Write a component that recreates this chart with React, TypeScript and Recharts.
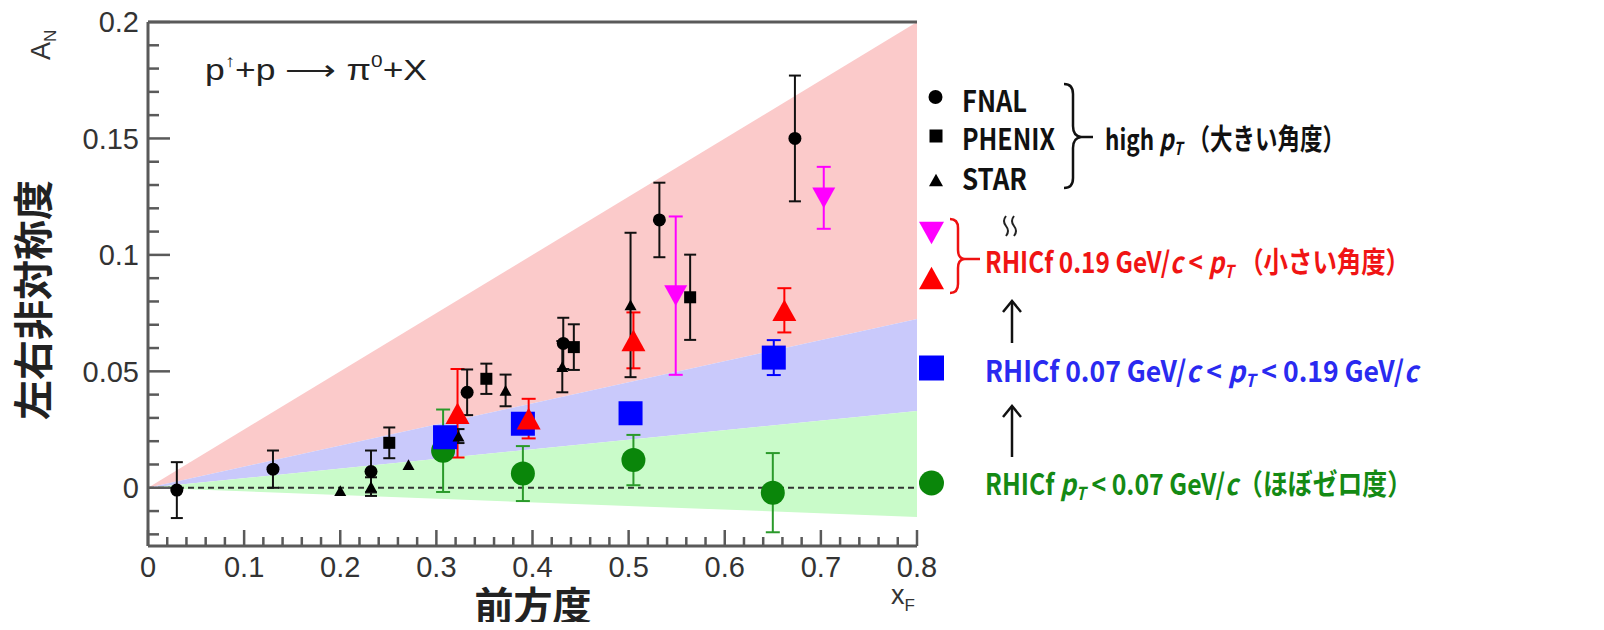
import React from 'react';
import {
  ComposedChart,
  XAxis,
  YAxis,
  Area,
  Line,
  Scatter,
  ErrorBar,
  ReferenceLine,
} from 'recharts';

// Bands of A_N vs x_F (edges meet at the origin)
const bandX = [0, 0.8];
const pinkTop = [0, 0.2];
const blueTop = [0, 0.0725];
const greenTop = [0, 0.033];
const greenBottom = [0, -0.0125];
const zeroLine = [0, 0];

// high pT world data
const fnalX = [0.03, 0.13, 0.232, 0.332, 0.432, 0.532, 0.673];
const fnalY = [-0.001, 0.008, 0.007, 0.041, 0.062, 0.115, 0.15];
const fnalErr = [0.012, 0.008, 0.009, 0.0098, 0.011, 0.016, 0.027];

const phenixX = [0.251, 0.352, 0.443, 0.564];
const phenixY = [0.0193, 0.0468, 0.0604, 0.0818];
const phenixErr = [0.0066, 0.0065, 0.0098, 0.0183];

const starX = [0.2, 0.232, 0.271, 0.323, 0.372, 0.431, 0.502];
const starY = [-0.0012, 0.0005, 0.0099, 0.0222, 0.0418, 0.052, 0.0785];
const starErr = [0, 0.004, 0, 0.003, 0.0068, 0.011, 0.031];

// RHICf
const magentaX = [0.549, 0.703];
const magentaY = [0.0825, 0.1245];
const magentaErr = [0.034, 0.0133];

const redX = [0.322, 0.396, 0.505, 0.662];
const redY = [0.032, 0.0297, 0.0633, 0.0762];
const redErr = [0.019, 0.0085, 0.012, 0.0095];

const blueX = [0.309, 0.39, 0.502, 0.651];
const blueY = [0.0217, 0.0275, 0.032, 0.0559];
const blueErr = [0.004, 0.004, 0.004, 0.0075];

const greenX = [0.307, 0.39, 0.505, 0.65];
const greenY = [0.0159, 0.0061, 0.0119, -0.0021];
const greenErr = [0.0177, 0.0118, 0.0108, 0.017];

// axis ticks
const xTicks = Array.from({ length: 41 }, (_, i) => Math.round(i * 2) / 100);
const xMajor = [0, 0.1, 0.2, 0.3, 0.4, 0.5, 0.6, 0.7, 0.8];
const yTicks = [
  -0.02, -0.01, 0, 0.01, 0.02, 0.03, 0.04, 0.05, 0.06, 0.07, 0.08, 0.09, 0.1,
  0.11, 0.12, 0.13, 0.14, 0.15, 0.16, 0.17, 0.18, 0.19, 0.2,
];
const yMajor = [0, 0.05, 0.1, 0.15, 0.2];

const bandRows = bandX.map((x, i) => ({
  x,
  pink: [blueTop[i], pinkTop[i]],
  blue: [greenTop[i], blueTop[i]],
  green: [greenBottom[i], greenTop[i]],
  zero: zeroLine[i],
}));

const rows = (xs: number[], ys: number[], es: number[]) =>
  xs.map((x, i) => ({ x, y: ys[i], err: es[i] }));

const W = 1604;
const H = 630;
const AXIS = '#5a5a5a';
const TICK_FONT = '"Liberation Sans", Arial, sans-serif';
const JP_FONT = '"Noto Sans CJK JP", sans-serif';

type Kind = 'circle' | 'square' | 'up' | 'down';

function Marker({ cx, cy, kind, size, fill }: { cx: number; cy: number; kind: Kind; size: number; fill: string }) {
  const h = size / 2;
  if (kind === 'circle') return <circle cx={cx} cy={cy} r={h} fill={fill} />;
  if (kind === 'square') return <rect x={cx - h} y={cy - h} width={size} height={size} fill={fill} />;
  const t = h * 0.9;
  if (kind === 'up')
    return <polygon points={`${cx},${cy - t} ${cx + h},${cy + t} ${cx - h},${cy + t}`} fill={fill} />;
  return <polygon points={`${cx},${cy + t} ${cx + h},${cy - t} ${cx - h},${cy - t}`} fill={fill} />;
}

const isIn = (list: number[], v: number) => list.some((m) => Math.abs(m - v) < 1e-9);

function YTick(props: any) {
  const { x, y, payload } = props;
  const major = isIn(yMajor, payload.value);
  return (
    <g>
      <line x1={x} x2={x + (major ? 22 : 11)} y1={y} y2={y} stroke={AXIS} strokeWidth={2.5} />
      {major && (
        <text x={x - 9} y={y} dy="0.36em" textAnchor="end" fontSize={29} fill="#333" fontFamily={TICK_FONT}>
          {String(payload.value)}
        </text>
      )}
    </g>
  );
}

function XTick(props: any) {
  const { x, y, payload } = props;
  const major = isIn(xMajor, payload.value);
  return (
    <g>
      <line x1={x} x2={x} y1={y} y2={y - (major ? 16 : 9)} stroke={AXIS} strokeWidth={2.5} />
      {major && (
        <text x={x} y={y + 31} textAnchor="middle" fontSize={29} fill="#333" fontFamily={TICK_FONT}>
          {String(payload.value)}
        </text>
      )}
    </g>
  );
}

const series = [
  { key: 'green', data: rows(greenX, greenY, greenErr), kind: 'circle' as Kind, size: 24, fill: '#0a860a', err: '#2a9a2a', cap: 7 },
  { key: 'blue', data: rows(blueX, blueY, blueErr), kind: 'square' as Kind, size: 24, fill: '#0000ff', err: '#0000ff', cap: 7 },
  { key: 'red', data: rows(redX, redY, redErr), kind: 'up' as Kind, size: 24, fill: '#ff0000', err: '#ff0000', cap: 7 },
  { key: 'magenta', data: rows(magentaX, magentaY, magentaErr), kind: 'down' as Kind, size: 23, fill: '#ff00ff', err: '#ff00ff', cap: 7 },
  { key: 'fnal', data: rows(fnalX, fnalY, fnalErr), kind: 'circle' as Kind, size: 13, fill: '#000', err: '#111', cap: 6 },
  { key: 'phenix', data: rows(phenixX, phenixY, phenixErr), kind: 'square' as Kind, size: 12, fill: '#000', err: '#111', cap: 6 },
  { key: 'star', data: rows(starX, starY, starErr), kind: 'up' as Kind, size: 12, fill: '#000', err: '#111', cap: 6 },
];

function PT({ sub = 18 }: { sub?: number }) {
  return (
    <>
      <tspan fontStyle="italic">p</tspan>
      <tspan fontStyle="italic" fontSize={sub} dy={5}>T</tspan>
      <tspan dy={-5}>{' '}</tspan>
    </>
  );
}

function Overlay() {
  return (
    <svg width={W} height={H} style={{ position: 'absolute', left: 0, top: 0, pointerEvents: 'none' }}>
      {/* axis titles */}
      <text transform="translate(50,60) rotate(-90)" fontSize={27} fill="#333" fontFamily={TICK_FONT}>
        A<tspan fontSize={17} dy={6}>N</tspan>
      </text>
      <text transform="translate(48,300) rotate(-90)" textAnchor="middle" fontSize={40} fontWeight={700} fill="#222" fontFamily={JP_FONT}>
        左右非対称度
      </text>
      <text x={533} y={620} textAnchor="middle" fontSize={39} fontWeight={700} fill="#222" fontFamily={JP_FONT}>
        前方度
      </text>
      <text x={891} y={604} fontSize={27} fill="#333" fontFamily={TICK_FONT}>
        x<tspan fontSize={17} dy={7}>F</tspan>
      </text>

      {/* reaction */}
      <text x={205} y={80} fontSize={29} fill="#222" fontFamily={TICK_FONT} textLength={222} lengthAdjust="spacingAndGlyphs">
        p<tspan fontSize={17} dy={-13}>↑</tspan>
        <tspan dy={13}>+p ⟶ π</tspan>
        <tspan fontSize={17} dy={-13}>0</tspan>
        <tspan dy={13}>+X</tspan>
      </text>

      {/* legend: high pT */}
      <Marker cx={935.5} cy={97} kind="circle" size={14} fill="#000" />
      <Marker cx={936} cy={136} kind="square" size={13} fill="#000" />
      <Marker cx={936} cy={180} kind="up" size={14} fill="#000" />
      <g fontFamily={JP_FONT} fontSize={29} fontWeight={700} fill="#111">
        <text x={962} y={112} textLength={65} lengthAdjust="spacingAndGlyphs">FNAL</text>
        <text x={962} y={150} textLength={93} lengthAdjust="spacingAndGlyphs">PHENIX</text>
        <text x={962} y={190} textLength={65} lengthAdjust="spacingAndGlyphs">STAR</text>
        <text x={1105} y={150} textLength={240} lengthAdjust="spacingAndGlyphs">
          high <PT />（大きい角度）
        </text>
      </g>
      <path d="M1064,84 Q1073,84 1073,94 L1073,126 Q1073,136 1081,137 Q1073,138 1073,148 L1073,178 Q1073,188 1064,188"
        fill="none" stroke="#111" strokeWidth={2.5} />
      <line x1={1081} x2={1093} y1={137} y2={137} stroke="#111" strokeWidth={2.5} />
      <g fill="none" stroke="#222" strokeWidth={2}>
        <path d="M1006,216 q-4,5 0,10 q4,5 0,10" />
        <path d="M1014,216 q-4,5 0,10 q4,5 0,10" />
      </g>

      {/* legend: RHICf */}
      <Marker cx={931.5} cy={233} kind="down" size={25} fill="#ff00ff" />
      <Marker cx={931.5} cy={278} kind="up" size={25} fill="#ff0000" />
      <Marker cx={931.5} cy={368} kind="square" size={25} fill="#0000ff" />
      <Marker cx={931.5} cy={483} kind="circle" size={25} fill="#0a860a" />
      <path d="M950,219 Q958,219 958,228 L958,250 Q958,258 964,259 Q958,260 958,268 L958,284 Q958,293 950,293"
        fill="none" stroke="#ee1111" strokeWidth={2.5} />
      <line x1={964} x2={980} y1={259} y2={259} stroke="#ee1111" strokeWidth={2.5} />
      <g fontFamily={JP_FONT} fontSize={29} fontWeight={700}>
        <text x={985} y={273} fill="#f01414" textLength={425} lengthAdjust="spacingAndGlyphs">
          RHICf 0.19 GeV/<tspan fontStyle="italic">c</tspan> &lt; <PT />（小さい角度）
        </text>
        <text x={985} y={382} fill="#2a2af0" textLength={433} lengthAdjust="spacingAndGlyphs">
          RHICf 0.07 GeV/<tspan fontStyle="italic">c</tspan> &lt; <PT />&lt; 0.19 GeV/<tspan fontStyle="italic">c</tspan>
        </text>
        <text x={985} y={495} fill="#148a14" textLength={427} lengthAdjust="spacingAndGlyphs">
          RHICf <PT />&lt; 0.07 GeV/<tspan fontStyle="italic">c</tspan>（ほぼゼロ度）
        </text>
      </g>

      {/* arrows between pT ranges */}
      <g stroke="#111" strokeWidth={2.5} fill="none">
        <line x1={1012} x2={1012} y1={343} y2={301} />
        <polyline points="1003,312 1012,301 1021,312" />
        <line x1={1012} x2={1012} y1={457} y2={406} />
        <polyline points="1003,417 1012,406 1021,417" />
      </g>
    </svg>
  );
}

export default function App() {
  return (
    <div style={{ position: 'relative', width: W, height: H, margin: -8, background: '#fff' }}>
      <ComposedChart
        width={W}
        height={H}
        data={bandRows}
        margin={{ top: 22, right: 687, bottom: 44, left: 88 }}
      >
        <XAxis
          dataKey="x"
          type="number"
          domain={[0, 0.8]}
          allowDataOverflow
          ticks={xTicks}
          interval={0}
          tickSize={0}
          tickMargin={0}
          height={40}
          tick={(p: any) => <XTick {...p} />}
          axisLine={{ stroke: AXIS, strokeWidth: 3 }}
        />
        <YAxis
          type="number"
          domain={[-0.025, 0.2]}
          allowDataOverflow
          ticks={yTicks}
          interval={0}
          tickSize={0}
          tickMargin={0}
          width={60}
          tick={(p: any) => <YTick {...p} />}
          axisLine={{ stroke: AXIS, strokeWidth: 3 }}
        />
        <Area type="linear" dataKey="pink" stroke="none" fill="#fbcaca" fillOpacity={1} isAnimationActive={false} />
        <Area type="linear" dataKey="blue" stroke="none" fill="#c9c9fb" fillOpacity={1} isAnimationActive={false} />
        <Area type="linear" dataKey="green" stroke="none" fill="#c9fbc9" fillOpacity={1} isAnimationActive={false} />
        <Line type="linear" dataKey="zero" stroke="#333" strokeWidth={2} strokeDasharray="6 4" dot={false} activeDot={false} isAnimationActive={false} />
        <ReferenceLine y={0.2} stroke={AXIS} strokeWidth={3} />
        {series.map((s) => (
          <Scatter
            key={s.key}
            data={s.data}
            dataKey="y"
            isAnimationActive={false}
            shape={(p: any) => <Marker cx={p.cx} cy={p.cy} kind={s.kind} size={s.size} fill={s.fill} />}
          >
            <ErrorBar dataKey="err" direction="y" width={s.cap} stroke={s.err} strokeWidth={2} />
          </Scatter>
        ))}
      </ComposedChart>
      <Overlay />
    </div>
  );
}
